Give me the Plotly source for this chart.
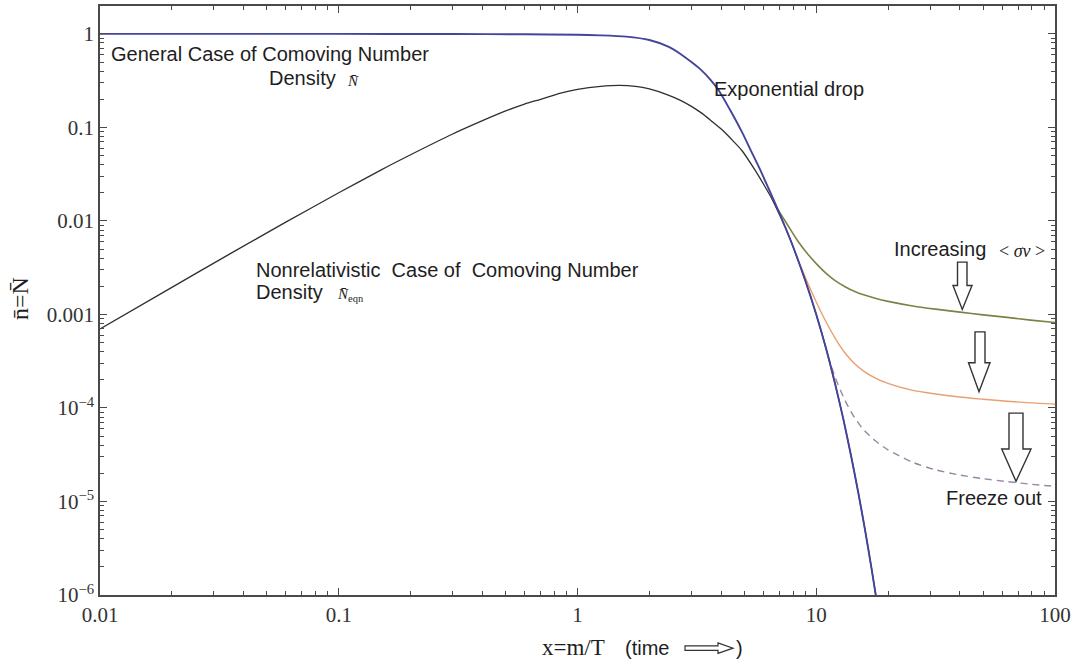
import plotly.graph_objects as go

# ---------------- data ----------------
black_x = [0.01, 0.02, 0.035, 0.06, 0.1, 0.15, 0.2, 0.3, 0.4, 0.5, 0.6, 0.7, 0.85, 1.0,
           1.25, 1.5, 1.75, 2.0, 2.4, 2.7, 3.0, 3.3, 3.6, 4.0, 4.5, 4.9, 5.5, 6.0, 6.5,
           7.0, 7.5, 8.0, 9.0, 10, 11, 12, 13, 14, 15, 16, 17, 18]
black_y = [7.0e-4, 1.95e-3, 4.45e-3, 9.7e-3, 0.020, 0.035, 0.051, 0.085, 0.118, 0.15,
           0.178, 0.20, 0.233, 0.255, 0.275, 0.282, 0.275, 0.258, 0.222, 0.195, 0.168,
           0.143, 0.12, 0.096, 0.071, 0.056, 0.036, 0.025, 0.0175, 0.0118, 8.0e-3,
           5.3e-3, 2.3e-3, 1.0e-3, 4.3e-4, 1.8e-4, 7.5e-5, 3.05e-5, 1.24e-5, 5.0e-6,
           2.0e-6, 8.0e-7]

blue_x = [0.01, 0.1, 0.3, 0.6, 1.0, 1.25, 1.6, 2.0, 2.4, 2.7, 3.0, 3.3, 3.6, 3.9, 4.4,
          4.9, 5.3, 5.8, 6.3, 6.9, 7.5, 8.0, 9.0, 10, 11, 12, 13, 14, 15, 16, 17, 18]
blue_y = [1.0, 1.0, 0.998, 0.99, 0.978, 0.965, 0.935, 0.86, 0.73, 0.61, 0.50, 0.41,
          0.325, 0.25, 0.147, 0.088, 0.058, 0.036, 0.0225, 0.0133, 8.0e-3, 5.3e-3,
          2.3e-3, 1.0e-3, 4.3e-4, 1.8e-4, 7.5e-5, 3.05e-5, 1.24e-5, 5.0e-6, 2.0e-6,
          8.0e-7]

green_x = [6.9, 7.6, 8.3, 9.1, 10, 11, 12, 13.2, 14.5, 15.8, 17.8, 20, 25, 31.6, 40,
           50, 63, 79, 100]
green_y = [0.0133, 9.0e-3, 6.3e-3, 4.6e-3, 3.5e-3, 2.75e-3, 2.3e-3, 1.98e-3, 1.76e-3,
           1.62e-3, 1.48e-3, 1.38e-3, 1.24e-3, 1.14e-3, 1.06e-3, 9.9e-4, 9.3e-4,
           8.7e-4, 8.2e-4]

orange_x = [8.6, 9.33, 10, 10.96, 12.02, 13.18, 14.45, 15.85, 17.78, 19.95, 25.1, 31.6,
            39.8, 50.1, 63.1, 79.4, 100]
orange_y = [3.3e-3, 2.01e-3, 1.36e-3, 8.45e-4, 5.53e-4, 3.9e-4, 2.99e-4, 2.46e-4,
            2.07e-4, 1.83e-4, 1.55e-4, 1.41e-4, 1.31e-4, 1.24e-4, 1.18e-4, 1.135e-4,
            1.1e-4]

dashed_x = [11.2, 12.02, 13.18, 14.45, 15.85, 17.78, 19.95, 25.1, 31.6, 39.8, 50.1, 63.1,
            79.4, 100]
dashed_y = [3.6e-4, 2.1e-4, 1.21e-4, 7.92e-5, 5.79e-5, 4.4e-5, 3.57e-5, 2.65e-5,
            2.18e-5, 1.92e-5, 1.75e-5, 1.63e-5, 1.53e-5, 1.45e-5]

x_tickvals = [0.01, 0.1, 1, 10, 100]
x_ticktext = ["0.01", "0.1", "1", "10", "100"]
y_tickvals = [1e-6, 1e-5, 1e-4, 1e-3, 1e-2, 1e-1, 1]
y_ticktext = ["10<sup>\u22126</sup>", "10<sup>\u22125</sup>", "10<sup>\u22124</sup>",
              "0.001", "0.01", "0.1", "1"]

# ---------------- styling ----------------
SANS = "Liberation Sans"
SERIF = "Liberation Serif"
TXT = "#1e1e1e"
AX = "#4a4a4a"

L, R, T, B = 100, 23, 4, 69
W, H = 1078, 664
PW, PH = W - L - R, H - T - B


def px(x):
    return (x - L) / PW


def py(y):
    return (T + PH - y) / PH


def minor_vals(lo, hi):
    return [m * 10.0 ** e for e in range(lo, hi) for m in range(2, 10)]


fig = go.Figure()

fig.add_trace(go.Scatter(x=black_x, y=black_y, mode="lines",
                         line=dict(color="#2f2f2f", width=1.3, shape="spline", smoothing=0.7)))
fig.add_trace(go.Scatter(x=dashed_x, y=dashed_y, mode="lines",
                         line=dict(color="#9a88a0", width=1.4, dash="7px,5px",
                                   shape="spline", smoothing=0.7)))
fig.add_trace(go.Scatter(x=orange_x, y=orange_y, mode="lines",
                         line=dict(color="#e8a070", width=1.4, shape="spline", smoothing=0.7)))
fig.add_trace(go.Scatter(x=green_x, y=green_y, mode="lines",
                         line=dict(color="#7f8045", width=1.6, shape="spline", smoothing=0.7)))
fig.add_trace(go.Scatter(x=blue_x, y=blue_y, mode="lines",
                         line=dict(color="#44449c", width=1.9, shape="spline", smoothing=0.7)))

axis_common = dict(
    showline=True, linecolor=AX, linewidth=1.5, mirror="allticks",
    ticks="inside", ticklen=7, tickwidth=1, tickcolor=AX,
    showgrid=False, zeroline=False,
    tickfont=dict(family=SERIF, size=21, color="#333333"),
)

fig.update_xaxes(type="log", range=[-2, 2], tickmode="array",
                 tickvals=x_tickvals, ticktext=x_ticktext,
                 minor=dict(tickmode="array", tickvals=minor_vals(-2, 2), ticks="inside",
                            ticklen=4, tickwidth=1, tickcolor=AX, showgrid=False),
                 **axis_common)
fig.update_yaxes(type="log", range=[-6, 0.2985], tickmode="array",
                 tickvals=y_tickvals, ticktext=y_ticktext,
                 minor=dict(tickmode="array", tickvals=minor_vals(-6, 0), ticks="inside",
                            ticklen=4, tickwidth=1, tickcolor=AX, showgrid=False),
                 **axis_common)

ann = []


def text(x, y, s, size=20, family=SANS, anchor="left", angle=0):
    ann.append(dict(x=px(x), y=py(y), xref="paper", yref="paper", text=s,
                    showarrow=False, xanchor=anchor, yanchor="middle", textangle=angle,
                    borderpad=0,
                    font=dict(family=family, size=size, color=TXT)))


NB = "\u00a0"
text(110, 52, "General Case of Comoving Number")
text(268, 76, "Density")
text(346, 79, "<i>N\u0304</i>", size=15, family=SERIF)
text(713, 87, "Exponential drop")
text(255, 269, "Nonrelativistic" + NB + NB + "Case of" + NB + NB + "Comoving Number")
text(255, 291, "Density")
text(336, 294, "<i>N\u0304</i><sub>eqn</sub>", size=15, family=SERIF)
text(893, 248, "Increasing")
text(998, 250, "&lt;" + NB + "<i>\u03c3v</i>" + NB + "&gt;", size=18, family=SERIF)
text(945, 498, "Freeze out")
text(20, 298, "n\u0304=N\u0304", size=24, family=SERIF, anchor="center", angle=-90)
text(541, 648, "x=m/T", size=23, family=SERIF)
text(624, 648, "(time", size=20, family=SANS)
text(735, 648, ")", size=20, family=SANS)

shapes = []


def P(x, y):
    return f"{px(x):.5f},{py(y):.5f}"


def down_arrow(sl, sr, top, hs, hl, hr, tipx, tipy):
    path = ("M" + P(sl, top) + " L" + P(sr, top) + " L" + P(sr, hs) + " L" + P(hr, hs) +
            " L" + P(tipx, tipy) + " L" + P(hl, hs) + " L" + P(sl, hs) + " Z")
    shapes.append(dict(type="path", xref="paper", yref="paper", path=path,
                       line=dict(color="#333333", width=1.4), fillcolor="white"))


down_arrow(957.5, 967, 261, 284.5, 953, 972, 962.3, 308.5)
down_arrow(975, 985, 331, 362, 968.5, 990, 979, 391)
down_arrow(1009, 1023, 412.5, 448.5, 1001.7, 1031, 1016, 481)

# hollow arrow in the x-axis title
arrow_path = ("M" + P(685, 646) + " L" + P(718, 646) + " L" + P(718, 643) + " L" +
              P(733, 648.3) + " L" + P(718, 653.5) + " L" + P(718, 650.6) + " L" +
              P(685, 650.6) + " Z")
shapes.append(dict(type="path", xref="paper", yref="paper", path=arrow_path,
                   line=dict(color="#333333", width=1.2), fillcolor="white"))

fig.update_layout(
    width=W, height=H, autosize=False,
    margin=dict(l=L, r=R, t=T, b=B),
    paper_bgcolor="white", plot_bgcolor="white",
    showlegend=False,
    annotations=ann, shapes=shapes,
)

fig.write_html("out.html")
